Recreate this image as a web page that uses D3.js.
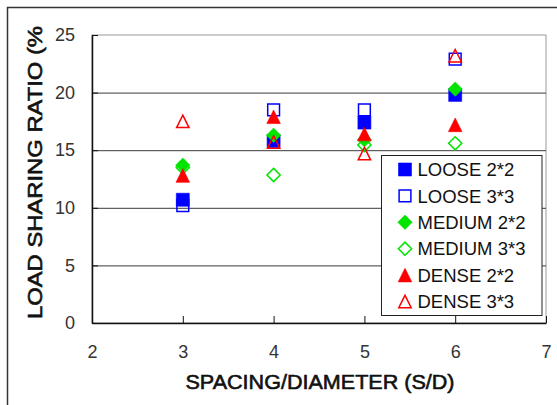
<!DOCTYPE html>
<html>
<head>
<meta charset="utf-8">
<script src="https://cdn.jsdelivr.net/npm/d3@7"></script>
<style>
  html, body { margin: 0; padding: 0; background: #fff; }
  svg { display: block; font-family: "Liberation Sans", Arial, sans-serif; }
</style>
</head>
<body>
<svg id="chart" width="557" height="405"></svg>
<script>
// ---- data ----
const xValues = [3, 4, 5, 6];
const seriesNames = ["LOOSE 2*2", "LOOSE 3*3", "MEDIUM 2*2", "MEDIUM 3*3", "DENSE 2*2", "DENSE 3*3"];
const loose22  = [10.7, 15.8, 17.4, 19.8];
const loose33  = [10.2, 18.5, 18.5, 22.9];
const medium22 = [13.7, 16.3, 15.9, 20.3];
const medium33 = [13.5, 12.85, 15.45, 15.6];
const dense22  = [12.8, 17.9, 16.4, 17.2];
const dense33  = [17.5, 15.7, 14.7, 23.2];
const xTicks = [2, 3, 4, 5, 6, 7];
const yTicks = [0, 5, 10, 15, 20, 25];
const xTitle = "SPACING/DIAMETER (S/D)";
const yTitle = "LOAD SHARING RATIO (%";

const seriesValues = [loose22, loose33, medium22, medium33, dense22, dense33];
const seriesShape = ["square", "square", "diamond", "diamond", "triangle", "triangle"];
const seriesFilled = [true, false, true, false, true, false];
const seriesColor = ["#0000ff", "#0000ff", "#00e400", "#00e400", "#ff0000", "#ff0000"];

// ---- layout ----
const svg = d3.select("#chart");
const x = d3.scaleLinear().domain([2, 7]).range([92, 546]);
const y = d3.scaleLinear().domain([0, 25]).range([323, 35]);

// custom symbol types (size = half extent)
const shapes = {
  square: { draw(ctx, s) { ctx.moveTo(-s, -s); ctx.lineTo(s, -s); ctx.lineTo(s, s); ctx.lineTo(-s, s); ctx.closePath(); } },
  diamond: { draw(ctx, s) { ctx.moveTo(0, -s); ctx.lineTo(s, 0); ctx.lineTo(0, s); ctx.lineTo(-s, 0); ctx.closePath(); } },
  triangle: { draw(ctx, s) { ctx.moveTo(0, -s); ctx.lineTo(s, s); ctx.lineTo(-s, s); ctx.closePath(); } }
};
const shapeSize = { square: 6.5, diamond: 7.2, triangle: 6.8 };
function symbolPath(shape, filled) {
  const s = shapeSize[shape] - (filled ? 0 : 0.6);
  return d3.symbol().type(shapes[shape]).size(s)();
}

// outer frame (cropped chart area)
svg.append("line").attr("x1", 7.5).attr("x2", 7.5).attr("y1", 7).attr("y2", 405)
  .attr("stroke", "#333").attr("stroke-width", 1.5);
svg.append("line").attr("x1", 7).attr("x2", 557).attr("y1", 7.5).attr("y2", 7.5)
  .attr("stroke", "#333").attr("stroke-width", 1.5);

// plot area
svg.append("rect").attr("x", x(2)).attr("y", y(25)).attr("width", x(7) - x(2)).attr("height", y(0) - y(25))
  .attr("fill", "#fff").attr("stroke", "#9a9a9a").attr("stroke-width", 1);

// gridlines
svg.append("g").attr("transform", `translate(${x(2)},0)`)
  .call(d3.axisLeft(y).tickValues(yTicks.slice(1, -1)).tickSize(-(x(7) - x(2))).tickFormat(""))
  .call(g => g.select(".domain").remove())
  .call(g => g.selectAll("line").attr("stroke", "#3a3a3a").attr("stroke-width", 1));

// y axis
svg.append("g").attr("transform", `translate(${x(2)},0)`)
  .call(d3.axisLeft(y).tickValues(yTicks).tickFormat(d3.format("d")).tickSize(-6).tickPadding(17).tickSizeOuter(0))
  .call(g => g.select(".domain").attr("stroke", "#111").attr("stroke-width", 1.5))
  .call(g => g.selectAll("line").attr("stroke", "#111"))
  .call(g => g.selectAll("text").attr("fill", "#333").attr("font-size", 18)
    .attr("font-family", "'Liberation Sans', Arial, sans-serif"));

// x axis
svg.append("g").attr("transform", `translate(0,${y(0)})`)
  .call(d3.axisBottom(x).tickValues(xTicks).tickFormat(d3.format("d")).tickSize(-7).tickPadding(22).tickSizeOuter(0))
  .call(g => g.select(".domain").attr("stroke", "#111").attr("stroke-width", 1.5))
  .call(g => g.selectAll("line").attr("stroke", "#111"))
  .call(g => g.selectAll("text").attr("fill", "#333").attr("font-size", 18)
    .attr("font-family", "'Liberation Sans', Arial, sans-serif"));

// axis titles
svg.append("text").attr("x", (185 + 455) / 2).attr("y", 389)
  .attr("text-anchor", "middle").attr("font-size", 21)
  .attr("fill", "#111").attr("stroke", "#111").attr("stroke-width", 0.6)
  .attr("textLength", 269).attr("lengthAdjust", "spacingAndGlyphs")
  .text(xTitle);
svg.append("text").attr("transform", `translate(42,${(319 + 26) / 2}) rotate(-90)`)
  .attr("text-anchor", "middle").attr("font-size", 21)
  .attr("fill", "#111").attr("stroke", "#111").attr("stroke-width", 0.6)
  .attr("textLength", 293).attr("lengthAdjust", "spacingAndGlyphs")
  .text(yTitle);

// markers
seriesValues.forEach((vals, i) => {
  const shape = seriesShape[i], filled = seriesFilled[i], col = seriesColor[i];
  svg.append("g").selectAll("path").data(vals).join("path")
    .attr("transform", (d, j) => `translate(${x(xValues[j])},${y(d)})`)
    .attr("d", symbolPath(shape, filled))
    .attr("fill", filled ? col : "none")
    .attr("stroke", col)
    .attr("stroke-width", filled ? 0.6 : 1.5);
});

// legend
const lg = svg.append("g");
lg.append("rect").attr("x", 381.5).attr("y", 155.5).attr("width", 160.5).attr("height", 160)
  .attr("fill", "#fff").attr("stroke", "#222").attr("stroke-width", 1);
const legendY = d3.scalePoint().domain(seriesNames).range([169.5, 301.5]);
seriesNames.forEach((name, i) => {
  const cy = legendY(name);
  lg.append("path").attr("transform", `translate(405,${cy})`)
    .attr("d", symbolPath(seriesShape[i], seriesFilled[i]))
    .attr("fill", seriesFilled[i] ? seriesColor[i] : "none")
    .attr("stroke", seriesColor[i]).attr("stroke-width", seriesFilled[i] ? 0.6 : 1.5);
  lg.append("text").attr("x", 417.5).attr("y", cy).attr("dy", "0.36em")
    .attr("font-size", 18.5).attr("fill", "#111").text(name);
});
</script>
</body>
</html>
